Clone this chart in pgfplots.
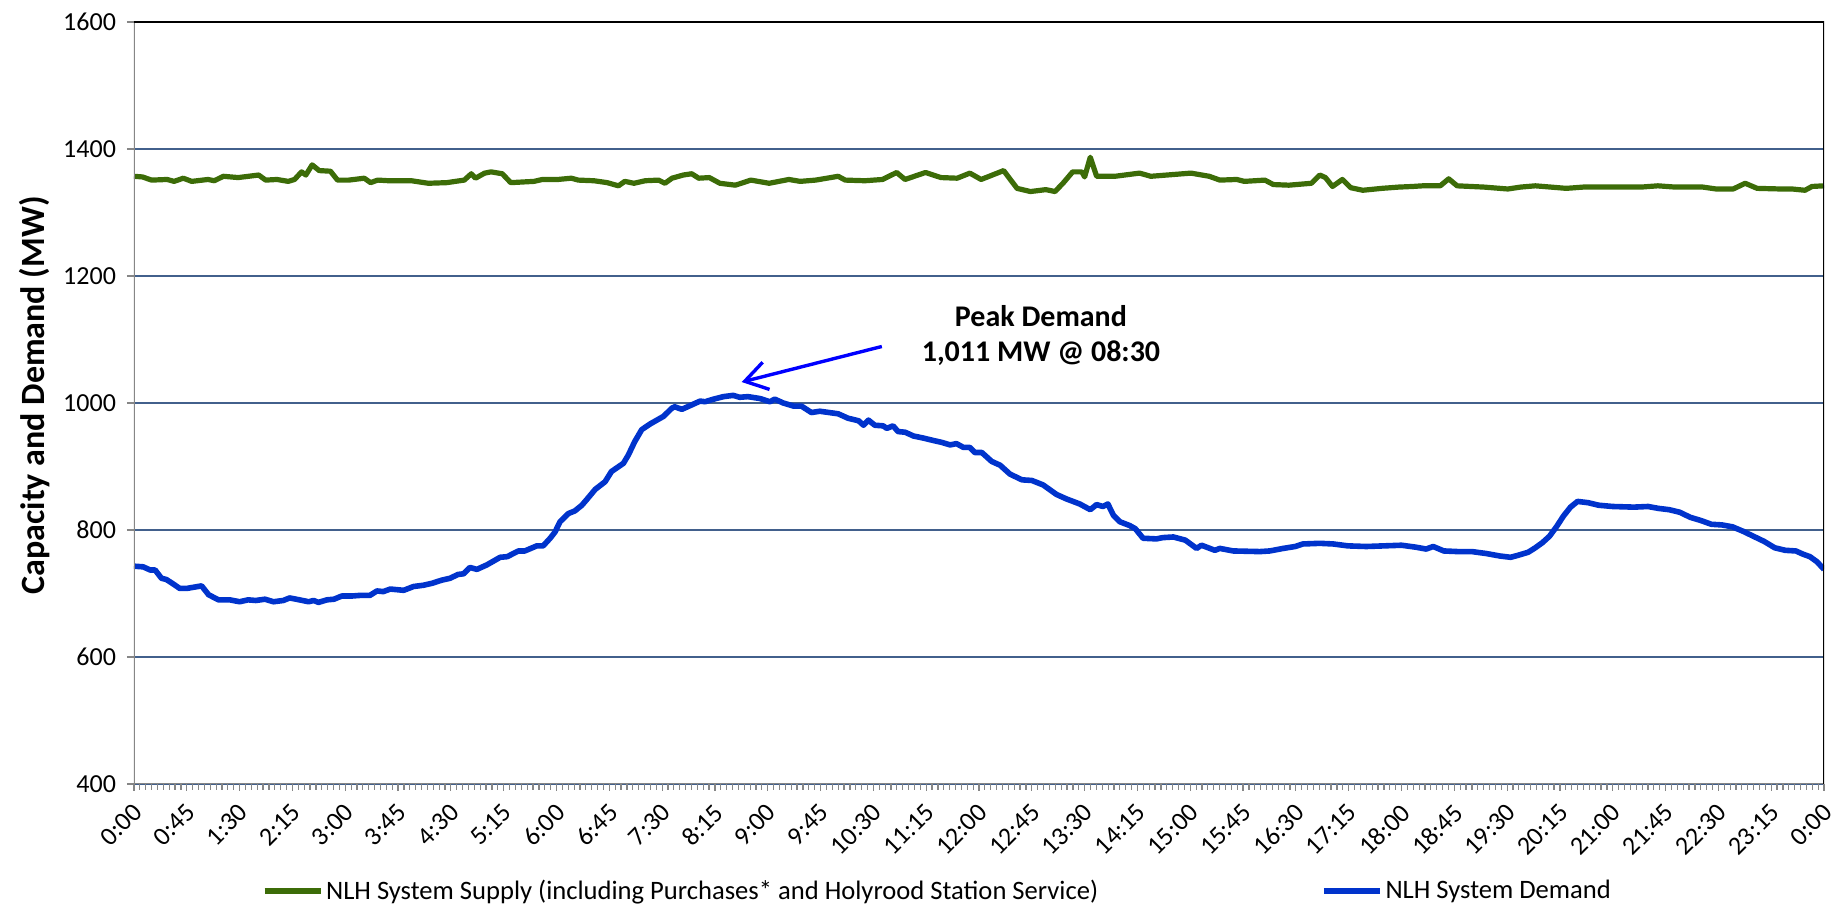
\documentclass[border=0pt]{standalone}
\usepackage{pgfplots}
\pgfplotsset{compat=1.18}
\usepackage{fontspec}
\setmainfont{Carlito}
\usetikzlibrary{arrows.meta}
\definecolor{supplygreen}{RGB}{60,108,8}
\definecolor{demandblue}{RGB}{0,51,204}
\definecolor{gridblue}{RGB}{66,96,140}
\definecolor{axisgray}{RGB}{134,134,134}
\begin{document}
\begin{tikzpicture}
\useasboundingbox (-67pt,-62.5pt) rectangle (850.5pt,392pt);
\begin{axis}[
  scale only axis,
  width=845pt, height=381pt,
  xmin=0, xmax=24, ymin=400, ymax=1600,
  ytick={400,600,...,1600},
  xtick={0,0.75,1.5,2.25,3,3.75,4.5,5.25,6,6.75,7.5,8.25,9,9.75,10.5,11.25,12,12.75,13.5,14.25,15,15.75,16.5,17.25,18,18.75,19.5,20.25,21,21.75,22.5,23.25,24},
  xticklabels={0:00,0:45,1:30,2:15,3:00,3:45,4:30,5:15,6:00,6:45,7:30,8:15,9:00,9:45,10:30,11:15,12:00,12:45,13:30,14:15,15:00,15:45,16:30,17:15,18:00,18:45,19:30,20:15,21:00,21:45,22:30,23:15,0:00},
  minor x tick num=8,
  xtick pos=left, ytick pos=left,
  tick align=outside,
  major tick length=3.5pt, minor tick length=3pt,
  tick style={axisgray, line width=0.6pt},
  minor tick style={axisgray, line width=0.6pt},
  axis line style={draw=none},
  ymajorgrids,
  grid style={gridblue, line width=0.7pt},
  /pgf/number format/assume math mode=true,
  /pgf/number format/1000 sep={},
  yticklabel style={font=\fontsize{13}{15}\selectfont, xshift=-2pt},
  xticklabel style={font=\fontsize{13}{15}\selectfont, xshift=-1.2pt, yshift=-4.2pt, rotate=45, anchor=north east, inner sep=0.8pt},
  ylabel={Capacity and Demand (MW)},
  every axis y label/.style={at={(axis description cs:-0.0586,0.51)}, rotate=90, anchor=center, font=\fontsize{17}{20}\selectfont\bfseries},
  legend columns=2,
  legend style={at={(axis description cs:0.4757,-0.1404)}, anchor=center, draw=none, fill=none,
    font=\fontsize{13.3}{15}\selectfont, inner sep=0pt, row sep=0pt,
    /tikz/every even column/.style={column sep=110pt},
    nodes={inner sep=1.5pt}},
  legend image code/.code={\draw[#1, line width=2.6pt] (0pt,0pt) -- (28pt,0pt);},
  line join=round,
]
\addplot[supplygreen, line width=2.6pt] coordinates {
(0,1357) (0.12,1356) (0.25,1351) (0.47,1352) (0.57,1349) (0.7,1354) (0.82,1349) (1.05,1352) (1.14,1350) (1.27,1357) (1.48,1355) (1.77,1359) (1.87,1351) (2.03,1352) (2.19,1349) (2.28,1352) (2.38,1364) (2.44,1359) (2.53,1375) (2.63,1366) (2.79,1365) (2.89,1351) (3.05,1351) (3.27,1354) (3.36,1347) (3.46,1351) (3.62,1350) (3.94,1350) (4.18,1346) (4.44,1347) (4.69,1351) (4.79,1361) (4.85,1354) (4.98,1362) (5.07,1364) (5.23,1361) (5.35,1347) (5.68,1349) (5.8,1352) (6.02,1352) (6.21,1354) (6.31,1351) (6.53,1350) (6.72,1347) (6.88,1342) (6.97,1349) (7.1,1346) (7.26,1350) (7.45,1351) (7.54,1346) (7.64,1354) (7.8,1359) (7.92,1361) (8.02,1354) (8.17,1355) (8.32,1346) (8.54,1343) (8.76,1351) (9.02,1346) (9.3,1352) (9.46,1349) (9.68,1351) (10.0,1357) (10.1,1351) (10.38,1350) (10.63,1352) (10.83,1363) (10.95,1352) (11.24,1363) (11.46,1355) (11.69,1354) (11.87,1362) (12.03,1352) (12.35,1366) (12.54,1338) (12.73,1333) (12.95,1336) (13.08,1333) (13.2,1347) (13.33,1364) (13.46,1364) (13.5,1356) (13.58,1387) (13.67,1357) (13.93,1357) (14.28,1362) (14.44,1357) (15.01,1362) (15.27,1357) (15.42,1351) (15.66,1352) (15.77,1349) (16.06,1351) (16.18,1344) (16.4,1343) (16.72,1346) (16.84,1359) (16.92,1355) (17.02,1341) (17.16,1352) (17.28,1339) (17.45,1335) (17.72,1338) (17.96,1340) (18.16,1341) (18.3,1342) (18.55,1342) (18.67,1353) (18.79,1342) (19.17,1340) (19.51,1337) (19.69,1340) (19.9,1342) (20.34,1338) (20.58,1340) (21.4,1340) (21.64,1342) (21.89,1340) (22.28,1340) (22.47,1337) (22.71,1337) (22.88,1346) (23.05,1338) (23.39,1337) (23.55,1337) (23.73,1335) (23.83,1341) (24,1342)
};
\addlegendentry{NLH System Supply (including Purchases* and Holyrood Station Service)}
\addplot[demandblue, line width=2.8pt] coordinates {
(0,743) (0.13,742) (0.23,737) (0.3,737) (0.39,724) (0.46,722) (0.53,717) (0.65,708) (0.75,708) (0.96,712) (1.06,698) (1.2,690) (1.36,690) (1.5,687) (1.62,690) (1.73,689) (1.86,691) (1.98,687) (2.12,689) (2.21,693) (2.35,690) (2.48,687) (2.55,689) (2.62,686) (2.74,690) (2.84,691) (2.95,696) (3.09,696) (3.21,697) (3.35,697) (3.45,704) (3.54,703) (3.64,707) (3.83,705) (3.97,711) (4.11,713) (4.23,716) (4.37,721) (4.49,724) (4.6,730) (4.68,731) (4.77,741) (4.87,738) (5.01,745) (5.2,757) (5.3,758) (5.46,767) (5.55,767) (5.72,775) (5.81,775) (5.91,787) (5.98,797) (6.05,813) (6.17,826) (6.26,830) (6.36,839) (6.43,848) (6.55,864) (6.69,876) (6.78,892) (6.95,905) (7.02,918) (7.11,939) (7.21,958) (7.33,967) (7.52,979) (7.64,992) (7.68,994) (7.78,990) (7.92,997) (8.04,1003) (8.11,1002) (8.23,1006) (8.37,1010) (8.51,1012) (8.6,1009) (8.72,1010) (8.89,1007) (9.03,1002) (9.1,1006) (9.22,1000) (9.37,995) (9.48,995) (9.62,985) (9.74,987) (10.0,983) (10.14,976) (10.29,972) (10.36,965) (10.43,973) (10.52,965) (10.64,964) (10.69,960) (10.78,964) (10.85,955) (10.95,954) (11.07,948) (11.2,945) (11.35,941) (11.47,938) (11.59,934) (11.68,936) (11.78,930) (11.87,930) (11.94,922) (12.04,922) (12.18,908) (12.3,902) (12.44,888) (12.61,879) (12.75,878) (12.91,871) (13.1,856) (13.24,849) (13.43,841) (13.58,832) (13.67,840) (13.76,837) (13.83,841) (13.91,823) (14.0,813) (14.14,807) (14.22,802) (14.33,787) (14.52,786) (14.61,788) (14.76,789) (14.93,784) (15.09,771) (15.16,776) (15.35,768) (15.42,771) (15.61,767) (15.99,766) (16.13,767) (16.32,771) (16.49,774) (16.6,778) (16.84,779) (17.03,778) (17.24,775) (17.5,774) (17.75,775) (18.0,776) (18.2,773) (18.35,770) (18.45,774) (18.6,767) (18.8,766) (19.0,766) (19.2,763) (19.4,759) (19.55,757) (19.65,760) (19.8,765) (19.9,772) (20.0,780) (20.1,790) (20.2,805) (20.3,822) (20.4,836) (20.5,845) (20.65,843) (20.8,839) (21.0,837) (21.3,836) (21.5,837) (21.65,834) (21.8,832) (21.95,828) (22.1,820) (22.25,815) (22.4,809) (22.55,808) (22.7,805) (22.85,798) (23.0,790) (23.15,782) (23.3,772) (23.45,768) (23.6,767) (23.7,762) (23.8,758) (23.9,750) (24,738)
};
\addlegendentry{NLH System Demand}
\draw[-{Straight Barb[length=11pt,width=14pt]}, blue, line width=1.7pt] (axis cs:10.62,1089) -- (axis cs:8.63,1033);
\node[align=center, font=\fontsize{15}{17.5}\selectfont\bfseries] at (axis cs:12.88,1107) {Peak Demand\\1,011 MW @ 08:30};
\draw[axisgray, line width=1pt] (rel axis cs:0,1) -- (rel axis cs:0,0) -- (rel axis cs:1,0);
\draw[black, line width=1pt] (rel axis cs:0,1) -- (rel axis cs:1,1) -- (rel axis cs:1,0);
\end{axis}
\end{tikzpicture}
\end{document}
